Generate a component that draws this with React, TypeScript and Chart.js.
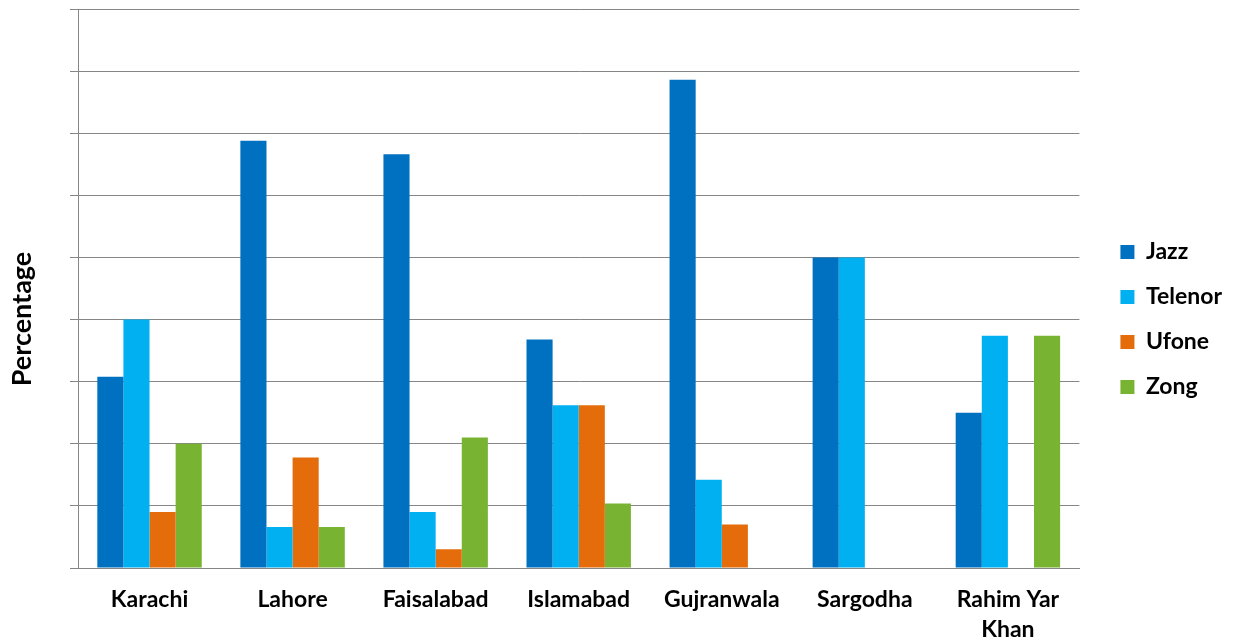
import React, { useEffect, useRef } from "react";
import { Chart, registerables } from "chart.js";

Chart.register(...registerables);

const categories: (string | string[])[] = [
  "Karachi",
  "Lahore",
  "Faisalabad",
  "Islamabad",
  "Gujranwala",
  "Sargodha",
  ["Rahim Yar", "Khan"],
];
const jazz = [15.4, 34.4, 33.3, 18.4, 39.3, 25, 12.5];
const telenor = [20, 3.3, 4.5, 13.1, 7.1, 25, 18.7];
const ufone = [4.5, 8.9, 1.5, 13.1, 3.5, 0, 0];
const zong = [10, 3.3, 10.5, 5.2, 0, 0, 18.7];
const yMax = 45;
const yStep = 5;
const yTitle = "Percentage";

const FONT = "Lato, 'Open Sans', sans-serif";

const titlePlugin = {
  id: "yTitleDraw",
  afterDraw(chart: any) {
    const ctx = chart.ctx;
    ctx.save();
    ctx.translate(22, 319);
    ctx.rotate(-Math.PI / 2);
    ctx.font = `bold 27px ${FONT}`;
    ctx.fillStyle = "#000";
    ctx.textAlign = "center";
    ctx.textBaseline = "middle";
    ctx.fillText(yTitle, 0, 0);
    ctx.restore();
  },
};

const legendShift = {
  id: "legendShift",
  afterLayout(chart: any) {
    const lg = chart.legend;
    if (!lg) return;
    const dx = 19;
    const dy = -16;
    lg.left += dx;
    lg.right += dx;
    lg.top += dy;
    lg.bottom += dy;
  },
};

export default function App() {
  const ref = useRef<HTMLCanvasElement | null>(null);
  useEffect(() => {
    if (!ref.current) return;
    const chart = new Chart(ref.current, {
      type: "bar",
      data: {
        labels: categories,
        datasets: [
          { label: "Jazz", data: jazz, backgroundColor: "#0070C0" },
          { label: "Telenor", data: telenor, backgroundColor: "#00B0F0" },
          { label: "Ufone", data: ufone, backgroundColor: "#E46C0A" },
          { label: "Zong", data: zong, backgroundColor: "#78B431" },
        ],
      },
      plugins: [titlePlugin, legendShift],
      options: {
        animation: false,
        responsive: false,
        maintainAspectRatio: false,
        layout: { padding: { top: 9, left: 70, right: 20, bottom: -21 } },
        datasets: { bar: { categoryPercentage: 0.73, barPercentage: 1.0 } },
        plugins: {
          tooltip: { enabled: false },
          legend: {
            position: "right",
            labels: {
              boxWidth: 14,
              boxHeight: 14,
              padding: 22,
              color: "#000",
              font: { family: FONT, size: 23, weight: "bold" },
            },
          },
        },
        scales: {
          x: {
            grid: { display: false, drawTicks: false },
            border: { display: true, color: "#868686", width: 1 },
            ticks: {
              color: "#000",
              padding: 17,
              maxRotation: 0,
              autoSkip: false,
              font: { family: FONT, size: 23, weight: "bold", lineHeight: "30px" },
            },
          },
          y: {
            min: 0,
            max: yMax,
            ticks: { stepSize: yStep, display: false },
            grid: { color: "#868686", lineWidth: 1, tickLength: 8, drawTicks: true },
            border: { display: true, color: "#868686", width: 1 },
            title: { display: false },
          },
        },
      },
    });
    return () => chart.destroy();
  }, []);
  return (
    <div style={{ position: "fixed", left: 0, top: 0, width: 1233, height: 641, background: "#fff" }}>
      <canvas ref={ref} width={1233} height={641} />
    </div>
  );
}
